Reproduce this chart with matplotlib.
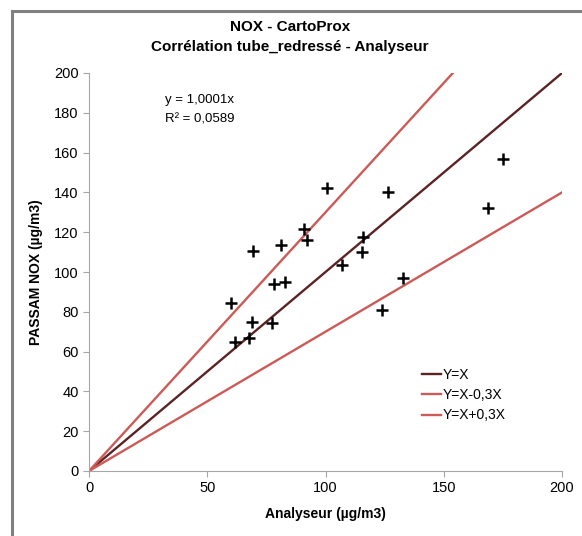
import matplotlib
matplotlib.use('Agg')
import matplotlib.pyplot as plt
from matplotlib.patches import Rectangle

plt.rcParams['font.family'] = ['Liberation Sans', 'DejaVu Sans']

# data
analyseur = [59.9, 61.9, 67.7, 68.9, 69.5, 77.4, 78.4, 82.9, 81.1, 91.0,
             92.2, 100.8, 106.9, 116.0, 115.4, 126.6, 124.1, 132.9, 168.6, 174.9]
passam = [84.3, 65.0, 66.7, 74.9, 110.7, 74.4, 94.0, 94.8, 113.7, 121.4,
          116.3, 142.4, 103.3, 117.7, 109.9, 140.2, 80.9, 97.1, 132.0, 156.8]

line_x = [0, 200]
line_labels = ['Y=X', 'Y=X-0,3X', 'Y=X+0,3X']
line_factors = [1.0, 0.7, 1.3]
line_colors = ['#5b2323', '#cc5a57', '#cc5a57']

fig = plt.figure(figsize=(5.82, 5.36), dpi=100)
ax = fig.add_axes([89/582, 1-471/536, 473/582, 398/536])

# outer chart border
fig.patches.append(Rectangle((12/582, -0.1), 1.2, 1.1 - 11/536,
                             transform=fig.transFigure, fill=False,
                             edgecolor='#808080', linewidth=2.2))

for lab, f, c in zip(line_labels, line_factors, line_colors):
    ax.plot(line_x, [f*v for v in line_x], color=c, lw=1.7, label=lab)

ax.plot(analyseur, passam, linestyle='none', marker='+', color='black',
        markersize=9, markeredgewidth=1.8)

ax.set_xlim(0, 200)
ax.set_ylim(0, 200)
ax.set_xticks(range(0, 201, 50))
ax.set_yticks(range(0, 201, 20))
for s in ['top', 'right']:
    ax.spines[s].set_visible(False)
for s in ['left', 'bottom']:
    ax.spines[s].set_color('#a6a6a6')
ax.tick_params(colors='#a6a6a6', labelcolor='black', labelsize=10.5,
               length=4, direction='out')

ax.set_xlabel('Analyseur (µg/m3)', fontsize=10, fontweight='bold', labelpad=8)
ax.set_ylabel('PASSAM NOX (µg/m3)', fontsize=10, fontweight='bold', labelpad=8)

fig.text(290/582, 1-27/536, 'NOX - CartoProx', ha='center', va='center',
         fontsize=11, fontweight='bold')
fig.text(290/582, 1-47/536, 'Corrélation tube_redressé - Analyseur',
         ha='center', va='center', fontsize=11, fontweight='bold')

ax.text(165/582, 1-100/536, 'y = 1,0001x', transform=fig.transFigure,
        fontsize=9.5, va='center')
ax.text(165/582, 1-120/536, 'R² = 0,0589', transform=fig.transFigure,
        fontsize=9.5, va='center')

ax.legend(loc='upper left', bbox_to_anchor=(415/582, 1-361/536),
          bbox_transform=fig.transFigure, frameon=False, fontsize=10,
          handlelength=1.4, handletextpad=0.1, labelspacing=0.45,
          borderpad=0)

fig.savefig('out.png', dpi=100)
